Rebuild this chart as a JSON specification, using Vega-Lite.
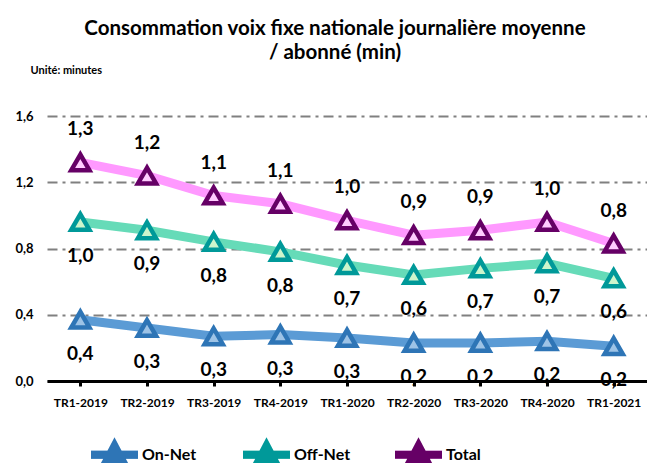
{
  "$schema": "https://vega.github.io/schema/vega-lite/v6.json",
  "width": 600,
  "height": 265,
  "autosize": "none",
  "padding": {"left": 47, "top": 116, "right": 0, "bottom": 82},
  "background": "white",
  "config": {
    "locale": {"number": {"decimal": ",", "thousands": " ", "grouping": [3], "currency": ["", ""]}},
    "font": "Lato",
    "view": {"stroke": null}
  },
  "title": {
    "text": ["Consommation voix fixe nationale journalière moyenne", "/ abonné (min)"],
    "fontSize": 20.5,
    "fontWeight": "bold",
    "font": "Lato",
    "color": "#000000",
    "lineHeight": 24,
    "offset": 1,
    "dx": -12,
    "anchor": "middle"
  },
  "data": {
    "values": [
      {"trimestre": "TR1-2019", "serie": "On-Net", "valeur": 0.37},
      {"trimestre": "TR2-2019", "serie": "On-Net", "valeur": 0.32},
      {"trimestre": "TR3-2019", "serie": "On-Net", "valeur": 0.27},
      {"trimestre": "TR4-2019", "serie": "On-Net", "valeur": 0.28},
      {"trimestre": "TR1-2020", "serie": "On-Net", "valeur": 0.26},
      {"trimestre": "TR2-2020", "serie": "On-Net", "valeur": 0.23},
      {"trimestre": "TR3-2020", "serie": "On-Net", "valeur": 0.23},
      {"trimestre": "TR4-2020", "serie": "On-Net", "valeur": 0.24},
      {"trimestre": "TR1-2021", "serie": "On-Net", "valeur": 0.21},
      {"trimestre": "TR1-2019", "serie": "Off-Net", "valeur": 0.96},
      {"trimestre": "TR2-2019", "serie": "Off-Net", "valeur": 0.91},
      {"trimestre": "TR3-2019", "serie": "Off-Net", "valeur": 0.84},
      {"trimestre": "TR4-2019", "serie": "Off-Net", "valeur": 0.78},
      {"trimestre": "TR1-2020", "serie": "Off-Net", "valeur": 0.70},
      {"trimestre": "TR2-2020", "serie": "Off-Net", "valeur": 0.64},
      {"trimestre": "TR3-2020", "serie": "Off-Net", "valeur": 0.68},
      {"trimestre": "TR4-2020", "serie": "Off-Net", "valeur": 0.71},
      {"trimestre": "TR1-2021", "serie": "Off-Net", "valeur": 0.62},
      {"trimestre": "TR1-2019", "serie": "Total", "valeur": 1.32},
      {"trimestre": "TR2-2019", "serie": "Total", "valeur": 1.24},
      {"trimestre": "TR3-2019", "serie": "Total", "valeur": 1.12},
      {"trimestre": "TR4-2019", "serie": "Total", "valeur": 1.07},
      {"trimestre": "TR1-2020", "serie": "Total", "valeur": 0.97},
      {"trimestre": "TR2-2020", "serie": "Total", "valeur": 0.88},
      {"trimestre": "TR3-2020", "serie": "Total", "valeur": 0.91},
      {"trimestre": "TR4-2020", "serie": "Total", "valeur": 0.96},
      {"trimestre": "TR1-2021", "serie": "Total", "valeur": 0.83}
    ]
  },
  "encoding": {
    "x": {
      "field": "trimestre",
      "type": "nominal",
      "sort": null,
      "scale": {"paddingInner": 0, "paddingOuter": 0},
      "axis": {
        "title": null,
        "labelAngle": 0,
        "labelFont": "Lato",
        "labelFontSize": 12,
        "labelFontWeight": "bold",
        "labelColor": "#000000",
        "labelPadding": 11,
        "domainColor": "#000000",
        "domainWidth": 3,
        "tickColor": "#000000",
        "tickWidth": 3,
        "tickSize": 5,
        "bandPosition": 0,
        "grid": false
      }
    },
    "y": {
      "field": "valeur",
      "type": "quantitative",
      "scale": {"domain": [0, 1.6], "nice": false},
      "axis": {
        "values": [0, 0.4, 0.8, 1.2, 1.6],
        "format": ".1f",
        "title": "Unité: minutes",
        "titleAngle": 0,
        "titleX": -17,
        "titleY": -46,
        "titleAlign": "left",
        "titleBaseline": "middle",
        "titleFont": "Lato",
        "titleFontSize": 11,
        "titleFontWeight": "bold",
        "titleColor": "#000000",
        "labelFont": "Lato",
        "labelFontSize": 13,
        "labelFontWeight": "bold",
        "labelColor": "#000000",
        "labelPadding": 14,
        "domain": false,
        "ticks": false,
        "grid": true,
        "gridColor": "#808080",
        "gridWidth": 2,
        "gridDash": [10, 5, 3, 5]
      }
    }
  },
  "layer": [
    {
      "mark": {"type": "line", "strokeWidth": 9},
      "encoding": {
        "color": {
          "field": "serie",
          "type": "nominal",
          "scale": {"domain": ["On-Net", "Off-Net", "Total"], "range": ["#5b9bd5", "#66dbb8", "#ff99ff"]},
          "legend": {
            "title": null,
            "orient": "none",
            "direction": "horizontal",
            "columns": 3,
            "gridAlign": "all",
            "legendX": 40,
            "legendY": 311,
            "labelFont": "Lato",
            "labelFontSize": 16,
            "labelFontWeight": "bold",
            "labelColor": "#000000",
            "symbolType": "M-1,0H1",
            "symbolSize": 2209,
            "symbolStrokeWidth": 8,
            "labelOffset": 0,
            "columnPadding": 28
          }
        }
      }
    },
    {
      "mark": {"type": "point", "shape": "triangle-up", "filled": true, "size": 330, "strokeWidth": 4.5, "opacity": 1},
      "encoding": {
        "stroke": {
          "field": "serie",
          "type": "nominal",
          "scale": {"range": ["#009999", "#2e75b6", "#660066"]},
          "legend": {
            "title": null,
            "orient": "none",
            "direction": "horizontal",
            "columns": 3,
            "gridAlign": "all",
            "legendX": 40,
            "legendY": 311,
            "labelFont": "Lato",
            "labelFontSize": 16,
            "labelFontWeight": "bold",
            "labelColor": "transparent",
            "symbolType": "M-1,0H1M-0.38,0.34L0,-0.38L0.38,0.34Z",
            "symbolSize": 2209,
            "symbolStrokeWidth": 8,
            "labelOffset": 0,
            "columnPadding": 28,
            "values": ["On-Net", "Off-Net", "Total"],
            "encode": {
              "symbols": {
                "update": {
                  "fill": [
                    {"test": "datum.value === 'On-Net'", "value": "#2e75b6"},
                    {"test": "datum.value === 'Off-Net'", "value": "#009999"},
                    {"value": "#660066"}
                  ],
                  "fillOpacity": {"value": 1},
                  "strokeOpacity": {"value": 0}
                }
              }
            }
          }
        },
        "fill": {
          "field": "serie",
          "type": "nominal",
          "scale": {"domain": ["On-Net", "Off-Net", "Total"], "range": ["#9dc3e6", "#ccf5cc", "#ffccff"]},
          "legend": null
        }
      }
    },
    {
      "transform": [{"filter": "datum.serie === 'Total'"}],
      "mark": {"type": "text", "dy": -33, "fontSize": 19, "fontWeight": "bold", "font": "Lato", "color": "#000000"},
      "encoding": {"text": {"field": "valeur", "type": "quantitative", "format": ".1f"}}
    },
    {
      "transform": [{"filter": "datum.serie !== 'Total'"}],
      "mark": {"type": "text", "dy": 34, "fontSize": 19, "fontWeight": "bold", "font": "Lato", "color": "#000000"},
      "encoding": {"text": {"field": "valeur", "type": "quantitative", "format": ".1f"}}
    }
  ]
}
